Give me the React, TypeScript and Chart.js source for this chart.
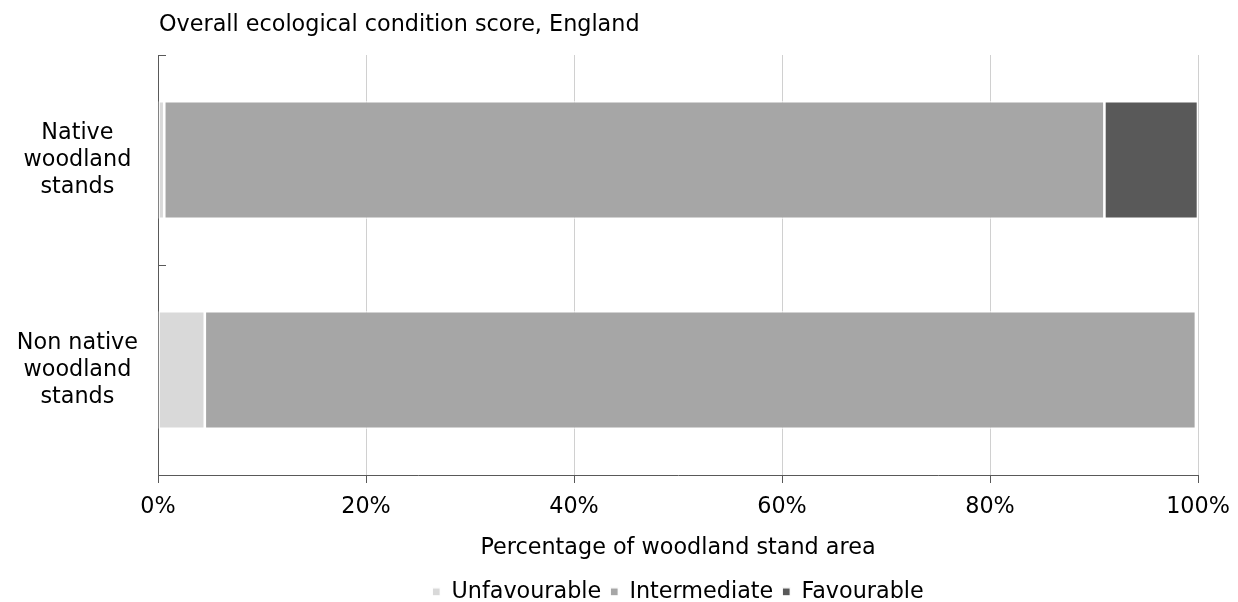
import React, { useEffect, useRef } from "react";
import { Chart, registerables } from "chart.js";

Chart.register(...registerables);

const chartTitle = "Overall ecological condition score, England";
const categories: string[][] = [
  ["Native", "woodland", "stands"],
  ["Non native", "woodland", "stands"],
];
const unfavourable = [0.6, 4.5];
const intermediate = [90.4, 95.3];
const favourable = [9.0, 0.2];
const seriesNames = ["Unfavourable", "Intermediate", "Favourable"];
const seriesColors = ["#d9d9d9", "#a6a6a6", "#595959"];
const xAxisTitle = "Percentage of woodland stand area";

const FONT = "'DejaVu Sans', Verdana, sans-serif";
const FS = 22.3;

export default function App() {
  const ref = useRef<HTMLCanvasElement | null>(null);
  useEffect(() => {
    if (!ref.current) return;
    const layoutPlugin = {
      id: "customLayout",
      afterLayout(chart: any) {
        const lg = chart.legend;
        const ca = chart.chartArea;
        if (lg) {
          lg.left = ca.left;
          lg.right = ca.right;
          lg.width = ca.right - ca.left;
          lg.top += 11;
          lg.bottom += 11;
        }
      },
      afterDraw(chart: any) {
        const ctx = chart.ctx;
        ctx.save();
        ctx.font = `${FS}px ${FONT}`;
        ctx.fillStyle = "#000";
        ctx.textAlign = "left";
        ctx.textBaseline = "alphabetic";
        ctx.fillText(chartTitle, chart.chartArea.left + 1, 31);
        ctx.restore();
      },
    };
    const values = [unfavourable, intermediate, favourable];
    const chart = new Chart(ref.current, {
      type: "bar",
      data: {
        labels: categories,
        datasets: seriesNames.map((name, i) => ({
          label: name,
          data: values[i],
          backgroundColor: seriesColors[i],
          borderColor: "#ffffff",
          borderWidth: 1.3,
          borderSkipped: false,
          categoryPercentage: 1,
          barPercentage: 0.56,
        })),
      },
      options: {
        indexAxis: "y",
        animation: false,
        responsive: true,
        maintainAspectRatio: false,
        layout: { padding: { top: 55, right: 40, bottom: 0, left: 0 } },
        font: { family: FONT, size: FS },
        plugins: {
          title: { display: false },
          tooltip: { enabled: false },
          legend: {
            position: "bottom",
            align: "center",
            labels: {
              boxWidth: 8,
              boxHeight: 8,
              padding: 9,
              color: "#000",
              font: { family: FONT, size: FS },
            },
          },
        },
        scales: {
          x: {
            stacked: true,
            min: 0,
            max: 100,
            ticks: {
              stepSize: 20,
              color: "#000",
              padding: 11,
              font: { family: FONT, size: FS },
              callback: (v: any) => `${v}%`,
            },
            grid: {
              color: "#d0d0d0",
              tickColor: "#595959",
              tickLength: 8,
              lineWidth: 1,
            },
            border: { color: "#595959", width: 1 },
            title: {
              display: true,
              text: xAxisTitle,
              color: "#000",
              font: { family: FONT, size: FS },
              padding: { top: 0, bottom: -1 },
            },
            afterFit: (scale: any) => {
              scale.height = 85.7;
              scale.paddingLeft = 0;
              scale.paddingRight = 0;
            },
          },
          y: {
            stacked: true,
            ticks: {
              color: "#000",
              crossAlign: "center",
              padding: 28,
              font: { family: FONT, size: FS },
            },
            grid: {
              drawOnChartArea: false,
              tickLength: -8,
              tickColor: "#595959",
              color: "#595959",
            },
            border: { color: "#595959", width: 1 },
            afterFit: (scale: any) => {
              scale.width = 158;
              scale.paddingTop = 0;
              scale.paddingBottom = 0;
            },
          },
        },
      },
      plugins: [layoutPlugin],
    } as any);
    return () => chart.destroy();
  }, []);
  return (
    <div style={{ position: "absolute", left: 0, top: 0, width: 1238, height: 602, background: "#fff" }}>
      <canvas ref={ref} />
    </div>
  );
}
